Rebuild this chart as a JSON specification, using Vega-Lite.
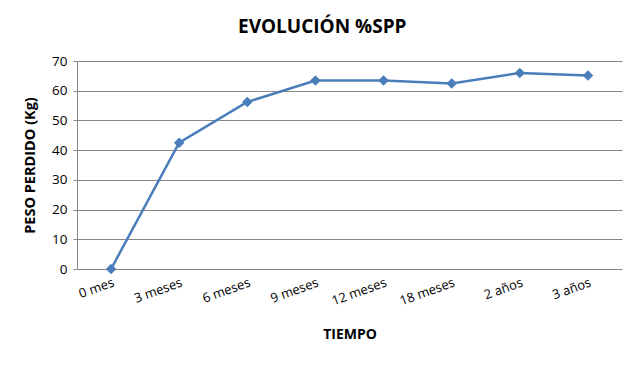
{
  "$schema": "https://vega.github.io/schema/vega-lite/v6.json",
  "width": 545,
  "height": 208,
  "autosize": {"type": "none"},
  "padding": {"left": 77, "top": 61, "right": 18, "bottom": 100},
  "background": "white",
  "title": {"text": "EVOLUCIÓN %SPP", "font": "Open Sans", "fontSize": 19, "fontWeight": "bold", "color": "#000000", "offset": 17, "anchor": "middle", "frame": "bounds"},
  "config": {"view": {"stroke": null}, "font": "Open Sans"},
  "data": {"values": [
    {"tiempo": "0 mes", "peso": 0},
    {"tiempo": "3 meses", "peso": 42.5},
    {"tiempo": "6 meses", "peso": 56.2},
    {"tiempo": "9 meses", "peso": 63.4},
    {"tiempo": "12 meses", "peso": 63.4},
    {"tiempo": "18 meses", "peso": 62.4},
    {"tiempo": "2 años", "peso": 66.0},
    {"tiempo": "3 años", "peso": 65.1}
  ]},
  "encoding": {
    "x": {"field": "tiempo", "type": "ordinal", "sort": null,
      "scale": {"type": "point", "padding": 0.5},
      "axis": {"title": "TIEMPO", "titleFont": "Open Sans", "titleFontSize": 14, "titleFontWeight": "bold", "titleColor": "#000", "titlePadding": 20,
        "labelAngle": -20, "labelAlign": "right", "labelBaseline": "top", "labelFontSize": 13, "labelColor": "#000", "labelPadding": 7,
        "ticks": false, "domain": false, "grid": false}},
    "y": {"field": "peso", "type": "quantitative",
      "scale": {"domain": [0, 70]},
      "axis": {"title": "PESO PERDIDO (Kg)", "titleFont": "Open Sans", "titleFontSize": 14.5, "titleFontWeight": "bold", "titleColor": "#000", "titlePadding": 14,
        "values": [0, 10, 20, 30, 40, 50, 60, 70], "labelFontSize": 13.5, "labelColor": "#000", "labelPadding": 6,
        "tickSize": 4, "tickColor": "#888", "domainColor": "#888", "gridColor": "#888", "grid": true}}
  },
  "layer": [
    {"mark": {"type": "line", "color": "#4A7EBB", "strokeWidth": 2.5}},
    {"mark": {"type": "point", "shape": "diamond", "filled": true, "color": "#4A7EBB", "size": 110, "opacity": 1}}
  ]
}
